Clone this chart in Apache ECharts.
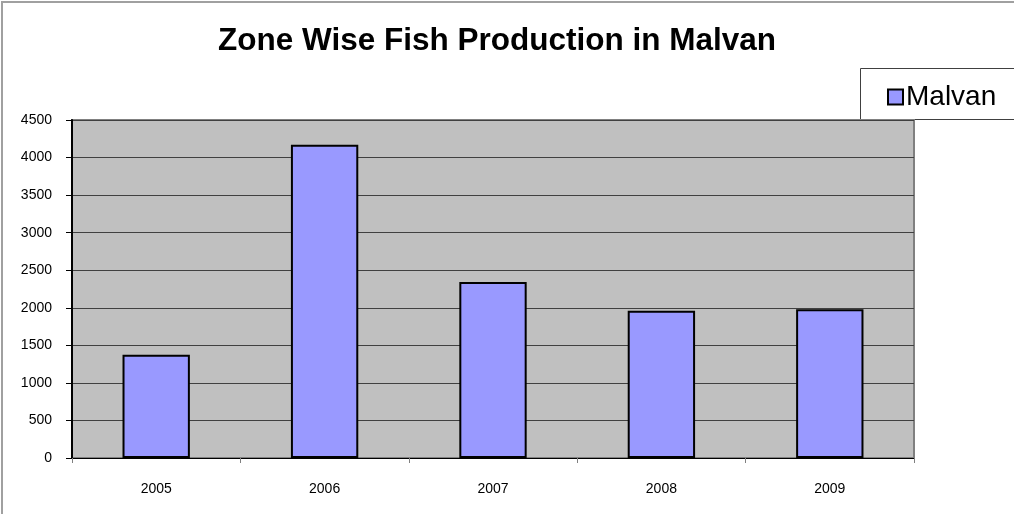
<!DOCTYPE html>
<html>
<head>
<meta charset="utf-8">
<script src="https://cdn.jsdelivr.net/npm/echarts@6/dist/echarts.min.js"></script>
<style>
  html, body { margin: 0; padding: 0; background: #fff; }
  #chart { width: 1014px; height: 514px; }
</style>
</head>
<body>
<div id="chart"></div>
<script>
// Yearly fish production, Malvan zone
const years = ['2005', '2006', '2007', '2008', '2009'];
const malvan = [1375, 4170, 2343, 1961, 1980];
const seriesName = 'Malvan';
const titleText = 'Zone Wise Fish Production in Malvan';

const FONT = 'Liberation Sans, Arial';
const chart = echarts.init(document.getElementById('chart'));
chart.setOption({
  animation: false,
  backgroundColor: '#ffffff',
  title: {
    text: titleText,
    left: 492,
    textAlign: 'center',
    top: 20,
    textStyle: { fontFamily: FONT, fontSize: 31.5, fontWeight: 'bold', color: '#000' }
  },
  legend: {
    data: [seriesName],
    left: 887,
    top: 83,
    padding: 0,
    icon: 'rect',
    itemWidth: 15,
    itemHeight: 15,
    textStyle: { fontFamily: FONT, fontSize: 28, color: '#000', padding: [0, 0, 0, -2] }
  },
  grid: {
    left: 72, right: 100, top: 120, bottom: 56,
    show: true,
    backgroundColor: '#c0c0c0',
    borderColor: '#808080',
    borderWidth: 2
  },
  xAxis: {
    type: 'category',
    data: years,
    axisLine: { lineStyle: { color: '#000', width: 1 } },
    axisTick: { show: true, length: 5, lineStyle: { color: '#808080' } },
    axisLabel: { fontFamily: FONT, fontSize: 14, color: '#000', margin: 24 }
  },
  yAxis: {
    type: 'value',
    min: 0, max: 4500, interval: 500,
    axisLine: { show: true, lineStyle: { color: '#000', width: 2 } },
    axisTick: { show: true, length: 6, lineStyle: { color: '#000' } },
    axisLabel: { fontFamily: FONT, fontSize: 14, color: '#000', margin: 20, formatter: v => String(v) },
    splitLine: { lineStyle: { color: '#404040', width: 1 } }
  },
  series: [{
    name: seriesName,
    type: 'bar',
    data: malvan,
    barWidth: '40%',
    itemStyle: { color: '#9999ff', borderColor: '#000', borderWidth: 2 }
  }],
  graphic: [
    // outer chart frame (left and top edges)
    { type: 'polyline', shape: { points: [[2, 514], [2, 2], [1014, 2]] },
      style: { fill: null, stroke: '#a0a0a0', lineWidth: 2 }, silent: true, z: -1 },
    // legend frame
    { type: 'rect', shape: { x: 860.5, y: 68.5, width: 160, height: 51 },
      style: { fill: '#fff', stroke: '#404040', lineWidth: 1 }, silent: true, z: -1 }
  ]
});
</script>
</body>
</html>
